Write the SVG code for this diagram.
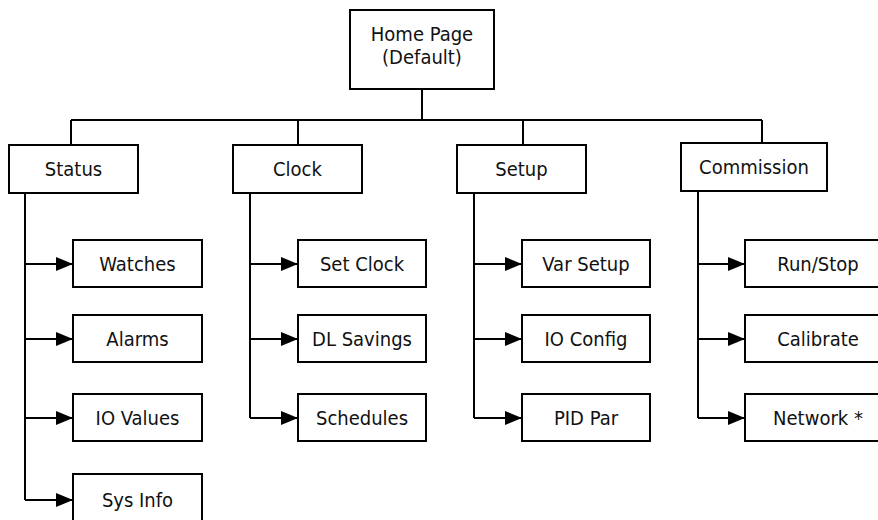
<svg xmlns="http://www.w3.org/2000/svg" width="878" height="520" viewBox="0 0 878 520">
<style>
.box{fill:#fff;stroke:#000;stroke-width:2}
.t{font-family:"DejaVu Sans Condensed","DejaVu Sans",sans-serif;font-stretch:condensed;font-size:20px;fill:#111;text-anchor:middle}
.ln{fill:none;stroke:#000;stroke-width:2}
.ar{fill:none;stroke:#000;stroke-width:2;marker-end:url(#ah)}
</style>
<defs>
<marker id="ah" markerUnits="userSpaceOnUse" viewBox="0 0 17 14" refX="17" refY="7" markerWidth="17" markerHeight="14" orient="auto">
<path d="M0,0 L17,7 L0,14 z" fill="#000"/>
</marker>
</defs>
<rect width="878" height="520" fill="#fff"/>
<g id="connectors">
<path class="ln" d="M422,89 V120 M71,120 H762 M71,120 V145 M298,120 V145 M523,120 V145 M762,120 V143"/>
<path class="ln" d="M25,193 V500 M250,193 V418 M474,193 V418 M698,191 V418"/>
<path class="ar" d="M25,264 H73"/><path class="ar" d="M25,339 H73"/><path class="ar" d="M25,418 H73"/><path class="ar" d="M25,500 H73"/>
<path class="ar" d="M250,264 H298"/><path class="ar" d="M250,339 H298"/><path class="ar" d="M250,418 H298"/>
<path class="ar" d="M474,264 H522"/><path class="ar" d="M474,339 H522"/><path class="ar" d="M474,418 H522"/>
<path class="ar" d="M698,264 H745"/><path class="ar" d="M698,339 H745"/><path class="ar" d="M698,418 H745"/>
</g>
<g id="home"><rect class="box" x="350" y="10" width="144" height="79"/><text class="t" x="422" y="41">Home Page</text><text class="t" x="422" y="64">(Default)</text></g>
<g id="status"><rect class="box" x="9" y="145" width="129" height="48"/><text class="t" x="73.5" y="176">Status</text></g>
<g id="clock"><rect class="box" x="233" y="145" width="129" height="48"/><text class="t" x="297.5" y="176">Clock</text></g>
<g id="setup"><rect class="box" x="457" y="145" width="129" height="48"/><text class="t" x="521.5" y="176">Setup</text></g>
<g id="commission"><rect class="box" x="681" y="143" width="146" height="48"/><text class="t" x="754" y="174">Commission</text></g>
<g id="watches"><rect class="box" x="73" y="240" width="129" height="47"/><text class="t" x="137.5" y="271">Watches</text></g>
<g id="alarms"><rect class="box" x="73" y="315" width="129" height="47"/><text class="t" x="137.5" y="346">Alarms</text></g>
<g id="iovalues"><rect class="box" x="73" y="394" width="129" height="47"/><text class="t" x="137.5" y="425">IO Values</text></g>
<g id="sysinfo"><rect class="box" x="73" y="474" width="129" height="56"/><text class="t" x="137.5" y="507">Sys Info</text></g>
<g id="setclock"><rect class="box" x="298" y="240" width="128" height="47"/><text class="t" x="362" y="271">Set Clock</text></g>
<g id="dlsavings"><rect class="box" x="298" y="315" width="128" height="47"/><text class="t" x="362" y="346">DL Savings</text></g>
<g id="schedules"><rect class="box" x="298" y="394" width="128" height="47"/><text class="t" x="362" y="425">Schedules</text></g>
<g id="varsetup"><rect class="box" x="522" y="240" width="128" height="47"/><text class="t" x="586" y="271">Var Setup</text></g>
<g id="ioconfig"><rect class="box" x="522" y="315" width="128" height="47"/><text class="t" x="586" y="346">IO Config</text></g>
<g id="pidpar"><rect class="box" x="522" y="394" width="128" height="47"/><text class="t" x="586" y="425">PID Par</text></g>
<g id="runstop"><rect class="box" x="745" y="240" width="146" height="47"/><text class="t" x="818" y="271">Run/Stop</text></g>
<g id="calibrate"><rect class="box" x="745" y="315" width="146" height="47"/><text class="t" x="818" y="346">Calibrate</text></g>
<g id="network"><rect class="box" x="745" y="394" width="146" height="47"/><text class="t" x="818" y="425">Network *</text></g>
</svg>
